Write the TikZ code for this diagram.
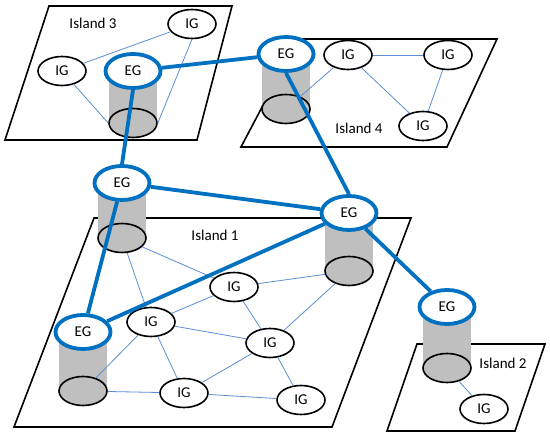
\documentclass[tikz,border=0pt]{standalone}
\usepackage{fontspec}
\setmainfont{Carlito}
\usetikzlibrary{shapes.geometric}

\definecolor{egblue}{HTML}{0070C0}
\definecolor{igblue}{HTML}{5B8FD6}
\definecolor{cylgray}{HTML}{BFBFBF}

\tikzset{
	island/.style={draw=black, line width=1.6pt, fill=white, line join=miter},
	eg/.style={ellipse, draw=egblue, line width=3.8pt, fill=white, minimum width=55pt, minimum height=34pt, inner sep=0pt},
	ig/.style={ellipse, draw=black, line width=1.6pt, fill=white, minimum width=48pt, minimum height=29pt, inner sep=0pt},
	base/.style={ellipse, draw=black, line width=1.6pt, fill=cylgray, minimum width=48pt, minimum height=29pt, inner sep=0pt},
	link/.style={draw=egblue, line width=3.8pt},
	wire/.style={draw=igblue, line width=0.8pt}
}

\begin{document}
\begin{tikzpicture}[x=1pt, y=-1pt, font=\fontsize{15}{18}\selectfont]

	\useasboundingbox (0,0) rectangle (550,438);

	% Isole
	\draw[island] (49,6) -- (232,6) -- (197,140) -- (5,140) -- cycle;
	\draw[island] (298,39) -- (497,39) -- (447,147) -- (241,147) -- cycle;
	\draw[island] (94,218) -- (411,218) -- (332,427) -- (14,427) -- cycle;
	\draw[island] (417,344) -- (545,344) -- (515,431) -- (387,431) -- cycle;

	\node (lab3) at (93,23) {Island 3};
	\node (lab4) at (359,128) {Island 4};
	\node (lab1) at (215,235) {Island 1};
	\node (lab2) at (503,363) {Island 2};

	% Cilindri con EG in cima
	\foreach \n/\x/\yt/\yb in {3/133/71/123, 4/286/54/109, 1a/122/183/238, 1b/349/213/271, 1c/83/332/391, 2/447/307/368} {
		\fill[cylgray] (\x-24,\yt) rectangle (\x+24,\yb);
		\node[base] (b\n) at (\x,\yb) {};
		\node[eg] (eg\n) at (\x,\yt) {EG};
	}

	% IG
	\node[ig] (ig3a) at (62,71) {IG};
	\node[ig] (ig3b) at (192,24) {IG};

	\node[ig] (ig4a) at (348,55) {IG};
	\node[ig] (ig4b) at (448,55) {IG};
	\node[ig] (ig4c) at (423,126) {IG};

	\node[ig] (ig1a) at (234,287) {IG};
	\node[ig] (ig1b) at (151,322) {IG};
	\node[ig] (ig1c) at (270,343) {IG};
	\node[ig] (ig1d) at (184,393) {IG};
	\node[ig] (ig1e) at (301,400) {IG};

	\node[ig] (ig2) at (484,409) {IG};

	% Collegamenti interni
	\draw[wire] (ig3a) -- (ig3b);
	\draw[wire] (ig3a) -- (b3.west);
	\draw[wire] (ig3b.south) -- (b3.east);

	\foreach \a/\b in {ig4a/ig4b, ig4a/ig4c, ig4b/ig4c, ig4a/b4}
		\draw[wire] (\a) -- (\b);

	\foreach \a/\b in {b1a/ig1a, b1a/ig1b, ig1b/ig1a, ig1b/ig1c, ig1b/ig1d, ig1b/b1c,
		b1c/ig1d, ig1d/ig1c, ig1d/ig1e, ig1c/ig1e, ig1a/ig1c, ig1a/b1b, ig1c/b1b}
		\draw[wire] (\a) -- (\b);

	\draw[wire] (b2) -- (ig2);

	% Collegamenti tra EG
	\draw[link] (eg3) -- (eg4);
	\draw[link] (eg3.south) -- (eg1a.north);
	\draw[link] (eg4.south) -- (eg1b.north);
	\draw[link] (eg1a) -- (eg1b);
	\draw[link] (eg1a) -- (eg1c);
	\draw[link] (eg1c) -- (eg1b);
	\draw[link] (eg1b) -- (eg2);

\end{tikzpicture}
\end{document}
